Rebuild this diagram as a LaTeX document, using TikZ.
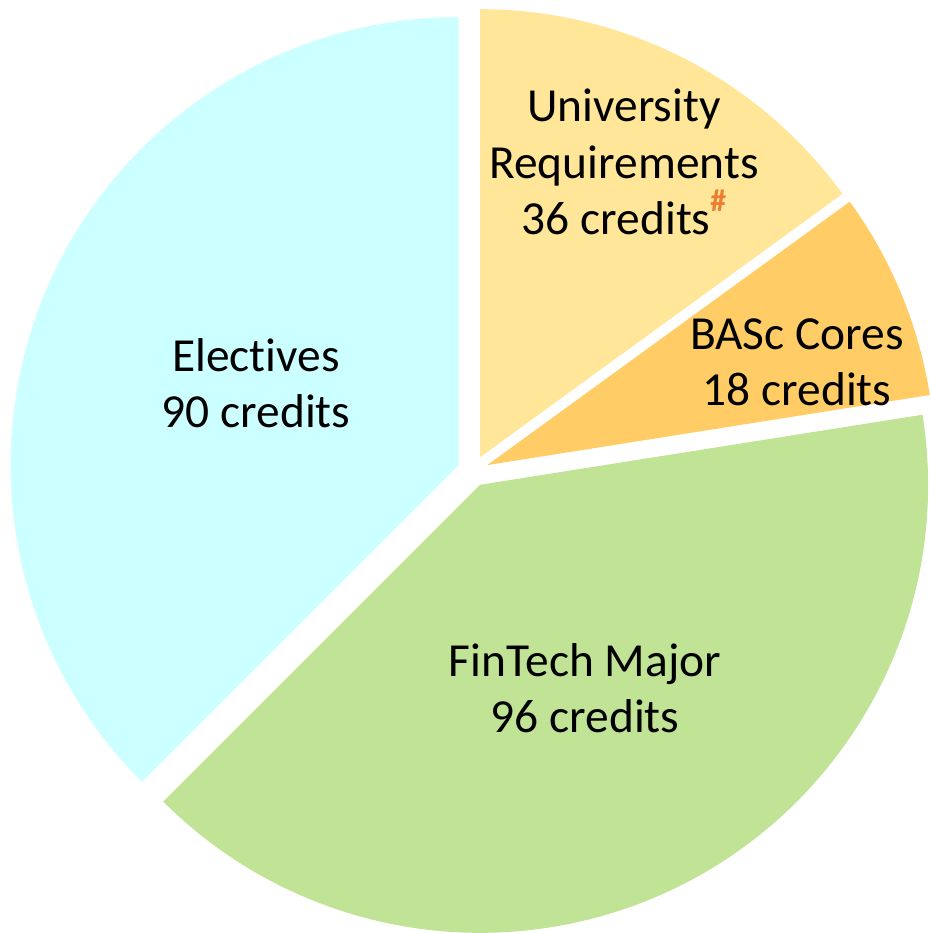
\documentclass[tikz,border=0pt]{standalone}
\usepackage{fontspec}
\setmainfont{Carlito}[Ligatures = NoCommon]
\definecolor{electivecyan}{HTML}{CCFFFF}
\definecolor{univyellow}{HTML}{FFE699}
\definecolor{basccore}{HTML}{FFCC66}
\definecolor{fintechgreen}{HTML}{C0E395}
\definecolor{hashorange}{HTML}{ED7D31}
\tikzset{
  slicelabel/.style = {align = center, inner sep = 0pt,
    font = \fontsize{27}{32}\selectfont}
}
\begin{document}
\begin{tikzpicture}[x = 0.02cm, y = 0.02cm]
    \useasboundingbox (-473, -462) rectangle (457, 471);
    \clip (-473, -462) rectangle (457, 471);
    % slices, each pulled out along its middle angle
    \fill [univyellow] (63:15.5) -- ++(90:448) arc (90:36:448) -- cycle;
    \fill [basccore] (22.5:15.5) -- ++(36:448) arc (36:9:448) -- cycle;
    \fill [fintechgreen] (-63:15.5) -- ++(9:448) arc (9:-135:448) -- cycle;
    \fill [electivecyan] (157.5:15.5) -- ++(225:448) arc (225:90:448) -- cycle;
    \node [slicelabel] (univ) at (151, 309) {University\\Requirements\\36 credits\raisebox{13pt}{\fontsize{18}{18}\selectfont\bfseries\textcolor{hashorange}{\#}}};
    \node [slicelabel] (basc) at (324, 109) {BASc Cores\\18 credits};
    \node [slicelabel] (fintech) at (112, -217) {FinTech Major\\96 credits};
    \node [slicelabel] (electives) at (-217, 88) {Electives\\90 credits};
  \end{tikzpicture}
\end{document}
